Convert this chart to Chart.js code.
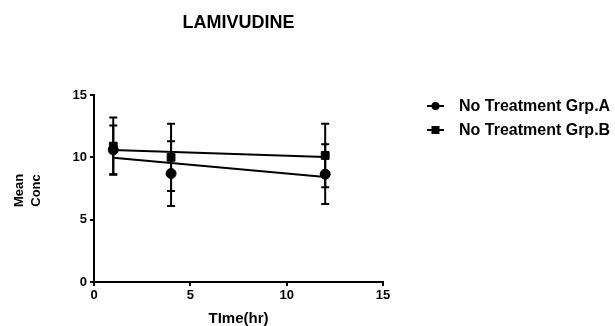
<!DOCTYPE html>
<html>
<head>
<meta charset="utf-8">
<script src="https://cdn.jsdelivr.net/npm/chart.js@4/dist/chart.umd.min.js"></script>
<style>
  html, body { margin: 0; padding: 0; background: #fff; }
  #wrap { width: 615px; height: 326px; }
</style>
</head>
<body>
<div id="wrap"><canvas id="chart" width="615" height="326"></canvas></div>
<script>
// === Data ===
const times = [1, 4, 12];
const meanA = [10.6, 8.7, 8.65];
const sdA = [1.95, 2.6, 2.4];
const meanB = [10.9, 10.0, 10.15];
const sdB = [2.3, 2.7, 2.55];
// fitted straight lines (end values as read)
const fitX = [1, 12];
const fitA = [9.97, 8.42];
const fitB = [10.59, 10.02];
const xTicks = [0, 5, 10, 15];
const yTicks = [0, 5, 10, 15];
const seriesNames = ["No Treatment Grp.A", "No Treatment Grp.B"];

const FONT = "'Liberation Sans', Arial, sans-serif";

function toPoints(xs, ys) {
  return xs.map((x, i) => ({ x: x, y: ys[i] }));
}

// === Error bars, titles and legend ===
const extras = {
  id: "extras",
  afterDatasetsDraw(chart) {
    const ctx = chart.ctx;
    const xs = chart.scales.x;
    const ys = chart.scales.y;
    ctx.save();
    ctx.strokeStyle = "#000";
    ctx.lineWidth = 2;
    [[meanA, sdA], [meanB, sdB]].forEach(([m, s]) => {
      times.forEach((t, i) => {
        const px = xs.getPixelForValue(t);
        const top = ys.getPixelForValue(m[i] + s[i]);
        const bot = ys.getPixelForValue(m[i] - s[i]);
        ctx.beginPath();
        ctx.moveTo(px, top);
        ctx.lineTo(px, bot);
        ctx.moveTo(px - 4, top);
        ctx.lineTo(px + 4, top);
        ctx.moveTo(px - 4, bot);
        ctx.lineTo(px + 4, bot);
        ctx.stroke();
      });
    });
    ctx.restore();
  },
  afterDraw(chart) {
    const ctx = chart.ctx;
    const area = chart.chartArea;
    const cx = (area.left + area.right) / 2;
    ctx.save();
    ctx.fillStyle = "#000";
    ctx.textAlign = "center";
    ctx.textBaseline = "middle";
    ctx.font = "bold 18px " + FONT;
    ctx.fillText("LAMIVUDINE", cx, 23);
    ctx.font = "bold 15px " + FONT;
    ctx.fillText("TIme(hr)", cx, 319);

    // y title, two rotated lines
    ctx.save();
    ctx.translate(19, (area.top + area.bottom) / 2 + 2);
    ctx.rotate(-Math.PI / 2);
    ctx.font = "bold 13px " + FONT;
    ctx.fillText("Mean", 0, 0);
    ctx.fillText("Conc", 0, 17);
    ctx.restore();

    // legend
    ctx.textAlign = "left";
    ctx.font = "bold 16px " + FONT;
    seriesNames.forEach((name, i) => {
      const y = 106 + i * 24;
      ctx.strokeStyle = "#000";
      ctx.lineWidth = 2;
      ctx.beginPath();
      ctx.moveTo(427, y);
      ctx.lineTo(444, y);
      ctx.stroke();
      ctx.beginPath();
      if (i === 0) {
        ctx.arc(435.5, y, 4, 0, Math.PI * 2);
      } else {
        ctx.rect(431.5, y - 4, 8, 8);
      }
      ctx.fill();
      ctx.fillText(name, 459, y + 1);
    });
    ctx.restore();
  },
};

const ctx = document.getElementById("chart").getContext("2d");
new Chart(ctx, {
  type: "scatter",
  data: {
    datasets: [
      {
        label: "fitA",
        data: toPoints(fitX, fitA),
        showLine: true,
        borderColor: "#000",
        borderWidth: 2,
        pointRadius: 0,
      },
      {
        label: "fitB",
        data: toPoints(fitX, fitB),
        showLine: true,
        borderColor: "#000",
        borderWidth: 2,
        pointRadius: 0,
      },
      {
        label: seriesNames[0],
        data: toPoints(times, meanA),
        pointStyle: "circle",
        pointRadius: 5,
        backgroundColor: "#000",
        borderColor: "#000",
      },
      {
        label: seriesNames[1],
        data: toPoints(times, meanB),
        pointStyle: "rect",
        pointRadius: 5.5,
        backgroundColor: "#000",
        borderColor: "#000",
      },
    ],
  },
  options: {
    responsive: false,
    animation: false,
    layout: { padding: { left: 0, right: 232, top: 95, bottom: 0 } },
    plugins: {
      legend: { display: false },
      tooltip: { enabled: false },
      title: { display: false },
    },
    scales: {
      x: {
        type: "linear",
        min: 0,
        max: 15,
        afterFit: (scale) => { scale.height = 44; },
        afterBuildTicks: (scale) => { scale.ticks = xTicks.map((v) => ({ value: v })); },
        border: { display: true, color: "#000", width: 2 },
        grid: { drawOnChartArea: false, drawTicks: true, tickLength: 4, color: "#000", lineWidth: 2 },
        ticks: { color: "#000", padding: 2, font: { family: FONT, size: 13, weight: "bold" } },
      },
      y: {
        min: 0,
        max: 15,
        afterFit: (scale) => { scale.width = 94; },
        afterBuildTicks: (scale) => { scale.ticks = yTicks.map((v) => ({ value: v })); },
        border: { display: true, color: "#000", width: 2 },
        grid: { drawOnChartArea: false, drawTicks: true, tickLength: 4, color: "#000", lineWidth: 2 },
        ticks: { color: "#000", padding: 3, font: { family: FONT, size: 13, weight: "bold" } },
      },
    },
  },
  plugins: [extras],
});
</script>
</body>
</html>
